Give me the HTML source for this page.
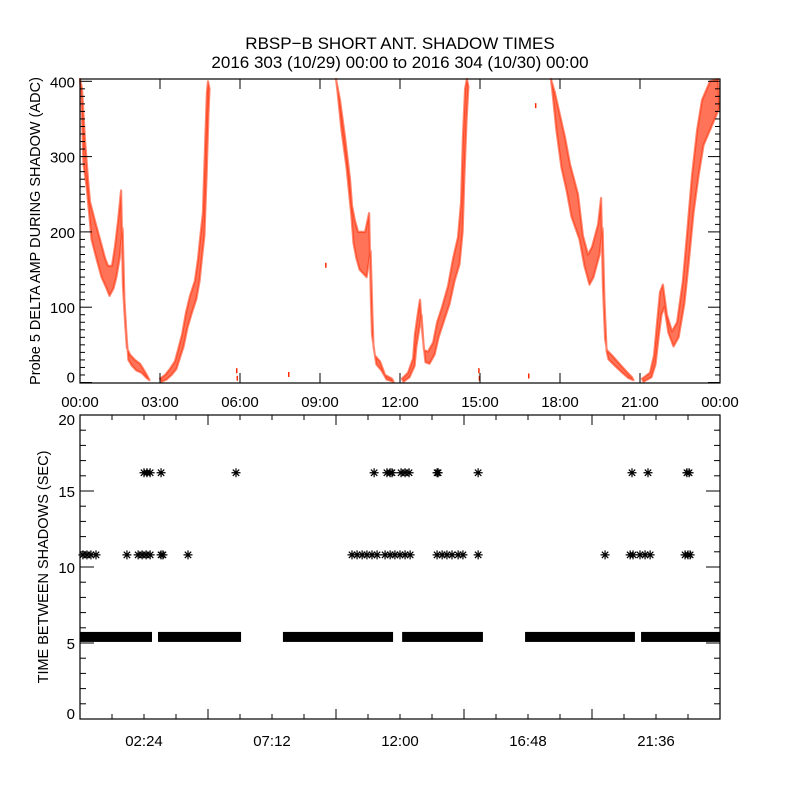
<!DOCTYPE html>
<html><head><meta charset="utf-8">
<style>
body{margin:0;background:#fff;}
svg{display:block;font-family:"Liberation Sans",sans-serif;}
text{fill:#000;}
</style></head>
<body>
<svg id="chart" width="800" height="800" viewBox="0 0 800 800" xmlns="http://www.w3.org/2000/svg">
<rect width="800" height="800" fill="#fff"/>
<text x="400" y="49" font-size="17" text-anchor="middle">RBSP−B SHORT ANT. SHADOW TIMES</text>
<text x="400" y="68" font-size="17" text-anchor="middle">2016 303 (10/29) 00:00 to 2016 304 (10/30) 00:00</text>
<g id="gtop"></g>
<g id="gbot"></g>
<text transform="translate(40,231) rotate(-90)" font-size="14.5" text-anchor="middle">Probe 5 DELTA AMP DURING SHADOW (ADC)</text>
<text transform="translate(48,567) rotate(-90)" font-size="14.5" text-anchor="middle">TIME BETWEEN SHADOWS (SEC)</text>
</svg>
<script>
// ---- top panel data: segments of [hour, center value, spread] ----
const seg1Hours=[0,0.075,0.19,0.3,0.375,0.56,0.75,0.94,1.05,1.2,1.31,1.43,1.54,1.61,1.69,1.76,1.875,2.06,2.25,2.44,2.55];
const seg1Vals=[390,340,290,245,215,190,165,145,135,140,160,190,230,120,70,38,30,23,19,10,5];
const seg1Spread=[15,50,30,25,25,25,25,20,20,15,20,25,25,10,10,8,7,7,6,4,2];
const seg2Hours=[3.0,3.19,3.375,3.56,3.675,3.83,3.975,4.125,4.31,4.43,4.5,4.61,4.69,4.76,4.8];
const seg2Vals=[3,7,14,23,37,56,83,103,123,150,175,210,295,370,395];
const seg2Spread=[2,3,4,5,6,8,10,12,12,15,15,15,20,15,5];
const seg3Hours=[9.6,9.75,9.94,10.125,10.2,10.31,10.43,10.69,10.84,10.91,10.95,11.06,11.25,11.44,11.7];
const seg3Vals=[395,355,305,245,210,190,175,170,200,100,56,30,22,7,3];
const seg3Spread=[8,20,20,25,25,25,25,30,25,10,8,6,6,3,2];
const seg4Hours=[12.075,12.3,12.49,12.56,12.675,12.75,12.83,12.9,13.05,13.24,13.39,13.575,13.8,13.99,14.175,14.29,14.36,14.44,14.51];
const seg4Vals=[3,10,27,56,83,100,60,35,33,45,70,90,116,150,175,220,300,370,398];
const seg4Spread=[2,3,5,8,10,10,10,8,8,8,10,10,12,15,18,20,25,20,5];
const seg5Hours=[17.66,17.81,18.0,18.19,18.375,18.675,18.86,19.05,19.2,19.43,19.54,19.61,19.69,19.76,19.95,20.25,20.51,20.7];
const seg5Vals=[395,360,320,290,255,220,175,150,160,190,225,120,50,37,30,19,10,5];
const seg5Spread=[8,25,35,35,35,30,20,20,20,20,20,10,8,6,6,5,4,2];
const seg6Hours=[21.075,21.375,21.525,21.64,21.75,21.86,22.01,22.2,22.39,22.61,22.76,22.95,23.14,23.325,23.625,23.925];
const seg6Vals=[3,10,30,70,105,115,78,58,70,120,175,250,305,345,370,385];
const seg6Spread=[2,3,6,10,15,15,12,10,10,15,20,25,30,30,30,20];
const dotHours=[5.85,5.87,7.8,9.19,14.93,14.95,16.8,17.06];
const dotVals=[15,5,10,155,15,5,8,367];
const topYTicks=[0,100,200,300,400];
const topXTickLabels=["00:00","03:00","06:00","09:00","12:00","15:00","18:00","21:00","00:00"];
// ---- bottom panel data ----
const bandStart=[0,2.925,7.61,12.08,16.69,21.04];
const bandEnd=[2.7,6.04,11.74,15.11,20.81,24];
const bandValue=5.4;
const t108=[0.11,0.26,0.41,0.6,1.76,2.18,2.33,2.48,2.63,3.04,3.11,4.05,10.2,10.39,10.58,10.76,10.95,11.14,11.44,11.63,11.81,12.0,12.19,12.38,13.39,13.58,13.76,13.95,14.18,14.36,14.93,19.69,20.63,20.74,21.0,21.19,21.38,22.69,22.8,22.88];
const t162=[2.4,2.51,2.63,3.04,5.85,11.03,11.51,11.63,11.7,12.04,12.19,12.34,13.39,13.43,14.93,20.7,21.3,22.76,22.84];
const botYTicks=[0,5,10,15,20];
const botXTickHours=[2.4,7.2,12,16.8,21.6];
const botXTickLabels=["02:24","07:12","12:00","16:48","21:36"];

const NS="http://www.w3.org/2000/svg";
const L=80,R=720,TT=79,TB=383,BT=415,BB=719;
const xs=h=>L+(h/24)*(R-L);
const yTop=v=>382.5-v*0.753;
const yBot=v=>BB-v*(BB-BT)/20;
function mk(tag,parent,attrs){const e=document.createElementNS(NS,tag);for(const k in attrs)e.setAttribute(k,attrs[k]);parent.appendChild(e);return e;}
const gTop=document.getElementById('gtop'),gBot=document.getElementById('gbot');

// top series
const segs=[[seg1Hours,seg1Vals,seg1Spread],[seg2Hours,seg2Vals,seg2Spread],[seg3Hours,seg3Vals,seg3Spread],[seg4Hours,seg4Vals,seg4Spread],[seg5Hours,seg5Vals,seg5Spread],[seg6Hours,seg6Vals,seg6Spread]];
segs.forEach((s,i)=>{
  const [H,V,S]=s;let up=[],dn=[];
  for(let j=0;j<H.length;j++){up.push(xs(H[j]).toFixed(1)+','+Math.max(TT,yTop(V[j]+S[j])).toFixed(1));dn.unshift((xs(H[j])+1.5).toFixed(1)+','+Math.min(TB-1,yTop(V[j]-S[j])).toFixed(1));}
  const p=mk('polygon',gTop,{points:up.concat(dn).join(' '),fill:'#ff2a00','fill-opacity':'0.65',stroke:'#ff2a00','stroke-width':'2.2','stroke-opacity':'0.55','stroke-linejoin':'round'});
  
  
});
dotHours.forEach((h,i)=>{
  const r=mk('rect',gTop,{x:xs(h),y:yTop(dotVals[i])-3,width:1.5,height:5,fill:'#ff2a00'});
  
  
});
// top axes
const f1=mk('rect',gTop,{x:L,y:TT,width:R-L,height:TB-TT,fill:'none',stroke:'#000','stroke-width':'1.2'});


for(let v=0;v<=400;v+=10){const y=yTop(v);const len=(v%100===0)?12:5;
  mk('line',gTop,{x1:L,x2:L+len,y1:y,y2:y,stroke:'#000'});mk('line',gTop,{x1:R,x2:R-len,y1:y,y2:y,stroke:'#000'});}
topYTicks.forEach(v=>{const t=mk('text',gTop,{x:L-5,y:yTop(v)+(v===0?0:6),'font-size':'15','text-anchor':'end'});t.textContent=v;
  
  });
topXTickLabels.forEach((lab,i)=>{const x=xs(i*3);
  mk('line',gTop,{x1:x,x2:x,y1:TB,y2:TB-10,stroke:'#000'});mk('line',gTop,{x1:x,x2:x,y1:TT,y2:TT+10,stroke:'#000'});
  const t=mk('text',gTop,{x:x,y:407,'font-size':'15','text-anchor':'middle'});t.textContent=lab;
  
  });

// bottom series
function star(parent,h,v,name){
  const x=xs(h),y=yBot(v),r=4.5,d=3.2;
  const p=mk('path',parent,{d:`M${x-r},${y}H${x+r}M${x},${y-r}V${y+r}M${x-d},${y-d}L${x+d},${y+d}M${x-d},${y+d}L${x+d},${y-d}`,stroke:'#000','stroke-width':'1.2',fill:'none'});
  
  
}
bandStart.forEach((s,i)=>{
  const r=mk('rect',gBot,{x:xs(s),y:yBot(bandValue)-5,width:xs(bandEnd[i])-xs(s),height:10,fill:'#000'});
  
  
});
t108.forEach(h=>star(gBot,h,10.8,'interval-11s-marker'));
t162.forEach(h=>star(gBot,h,16.2,'interval-16s-marker'));
// bottom axes
const f2=mk('rect',gBot,{x:L,y:BT,width:R-L,height:BB-BT,fill:'none',stroke:'#000','stroke-width':'1.2'});


for(let v=0;v<=20;v++){const y=yBot(v);const len=(v%5===0)?14:6;
  mk('line',gBot,{x1:L,x2:L+len,y1:y,y2:y,stroke:'#000'});mk('line',gBot,{x1:R,x2:R-len,y1:y,y2:y,stroke:'#000'});}
botYTicks.forEach(v=>{const t=mk('text',gBot,{x:L-5,y:yBot(v)+(v===0?0:(v===20?10:6)),'font-size':'15','text-anchor':'end'});t.textContent=v;
  
  });
for(let k=1;k<20;k++){const h=k*1.2;const x=xs(h);const len=(k%4===0)?10:5;
  mk('line',gBot,{x1:x,x2:x,y1:BB,y2:BB-len,stroke:'#000'});mk('line',gBot,{x1:x,x2:x,y1:BT,y2:BT+len,stroke:'#000'});}
botXTickHours.forEach((h,i)=>{const t=mk('text',gBot,{x:xs(h),y:746,'font-size':'15','text-anchor':'middle'});t.textContent=botXTickLabels[i];
  
  });
</script>
</body></html>
